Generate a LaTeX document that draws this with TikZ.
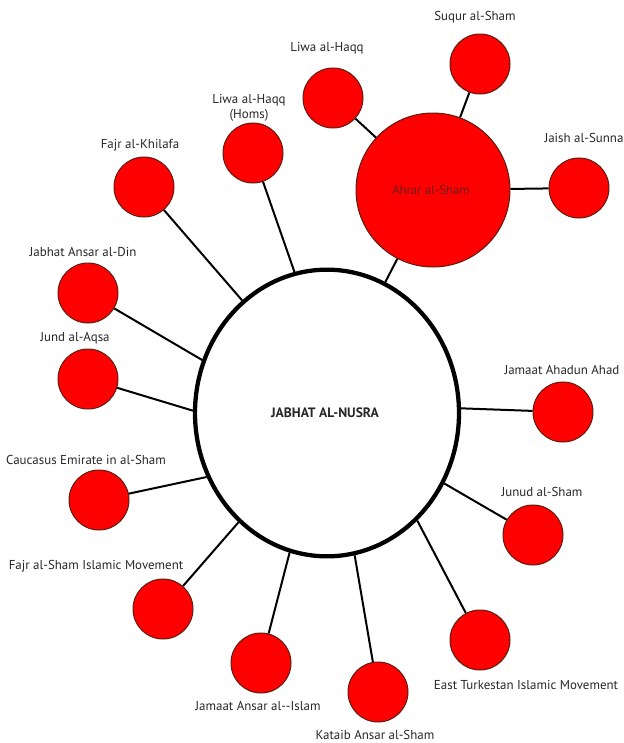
\documentclass[tikz,border=0pt]{standalone}
\usepackage{fontspec}
\setmainfont{PT Sans}
\usetikzlibrary{shapes.geometric}
\definecolor{fillred}{HTML}{FF0000}
\definecolor{rimred}{HTML}{5A1E14}
\definecolor{ahrartext}{HTML}{6A1E1E}
\tikzset{
  grp/.style={circle, fill=fillred, draw=rimred, line width=0.75pt, minimum size=45pt, inner sep=0pt},
  big/.style={circle, fill=fillred, draw=rimred, line width=0.75pt, minimum size=115.5pt, inner sep=0pt},
  lbl/.style={font=\fontsize{9.7}{11.2}\selectfont, text=black!85, align=center, inner sep=0pt},
  link/.style={line width=1.5pt, black},
}
\begin{document}
\begin{tikzpicture}[x=0.75pt,y=-0.75pt]
\useasboundingbox (0,0) rectangle (624,743);
% central ellipse
\node[ellipse, draw=black, line width=3.2pt, fill=white, minimum width=198pt, minimum height=215pt, inner sep=0pt] (c) at (327,413) {};
\node[font=\fontsize{10.2}{12}\selectfont\bfseries, text=black!85] (ct) at (325,413) {JABHAT AL-NUSRA};
% Ahrar al-Sham
\node[big] (ahrar) at (433,190) {};
\node[font=\fontsize{9.5}{11}\selectfont, text=ahrartext] (ahrart) at (431,190) {Ahrar al-Sham};
% small circles
\node[grp] (suqur) at (480,64) {};
\node[grp] (liwa) at (333,98) {};
\node[grp] (homs) at (253,153) {};
\node[grp] (jaish) at (579,188) {};
\node[grp] (khilafa) at (144,187) {};
\node[grp] (din) at (88,293) {};
\node[grp] (aqsa) at (88,379) {};
\node[grp] (ahadun) at (563,412) {};
\node[grp] (caucasus) at (99,500) {};
\node[grp] (junud) at (533,535) {};
\node[grp] (fajrsham) at (163,609) {};
\node[grp] (turkestan) at (480,640) {};
\node[grp] (islam) at (261,663) {};
\node[grp] (kataib) at (378,692) {};
% labels
\node[lbl] (suqurt) at (475,17) {Suqur al-Sham};
\node[lbl] (liwat) at (327,48) {Liwa al-Haqq};
\node[lbl] (homst) at (249,108) {Liwa al-Haqq\\(Homs)};
\node[lbl] (jaisht) at (584,138) {Jaish al-Sunna};
\node[lbl] (khilafat) at (140,145) {Fajr al-Khilafa};
\node[lbl] (dint) at (83,252) {Jabhat Ansar al-Din};
\node[lbl] (aqsat) at (75,338) {Jund al-Aqsa};
\node[lbl] (ahadunt) at (562,370) {Jamaat Ahadun Ahad};
\node[lbl] (caucasust) at (86,460) {Caucasus Emirate in al-Sham};
\node[lbl] (junudt) at (542,492) {Junud al-Sham};
\node[lbl] (fajrshamt) at (96,566) {Fajr al-Sham Islamic Movement};
\node[lbl] (turkestant) at (526,685) {East Turkestan Islamic Movement};
\node[lbl] (islamt) at (258,706) {Jamaat Ansar al-{}-Islam};
\node[lbl] (kataibt) at (375,735) {Kataib Ansar al-Sham};
% connectors
\draw[link] (liwa) -- (ahrar);
\draw[link] (suqur) -- (ahrar);
\draw[link] (jaish) -- (ahrar);
\draw[link] (ahrar) -- (c.66);
\draw[link] (homs) -- (c.103);
\draw[link] (khilafa) -- (c.127);
\draw[link] (din) -- (c.157);
\draw[link] (aqsa) -- (c.179);
\draw[link] (caucasus) -- (c.208);
\draw[link] (fajrsham) -- (c.231);
\draw[link] (islam) -- (c.255);
\draw[link] (kataib) -- (c.281);
\draw[link] (turkestan) -- (c.310);
\draw[link] (junud) -- (c.329);
\draw[link] (ahadun) -- (c.2);
\end{tikzpicture}
\end{document}
